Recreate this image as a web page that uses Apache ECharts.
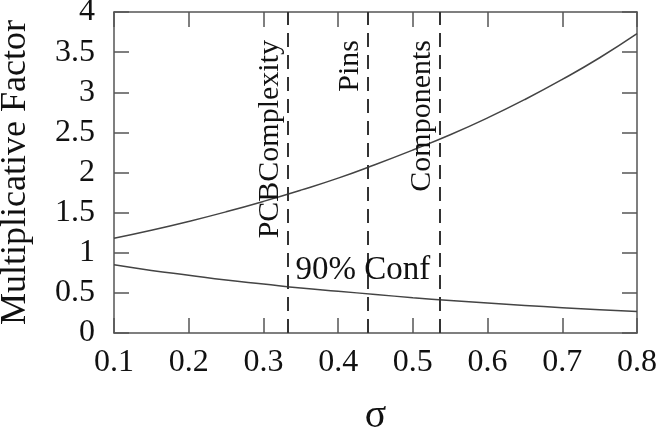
<!DOCTYPE html>
<html>
<head>
<meta charset="utf-8">
<script src="https://cdn.jsdelivr.net/npm/echarts@6/dist/echarts.min.js"></script>
<style>
  html, body { margin: 0; padding: 0; background: #fff; }
  #chart { width: 670px; height: 437px; }
</style>
</head>
<body>
<div id="chart"></div>
<script>
// values
const sigma = [0.1, 0.15, 0.2, 0.25, 0.3, 0.35, 0.4, 0.45, 0.5, 0.55, 0.6, 0.65, 0.7, 0.75, 0.8]
const upper = [1.18, 1.28, 1.39, 1.51, 1.64, 1.78, 1.93, 2.10, 2.28, 2.47, 2.68, 2.91, 3.16, 3.43, 3.73]
const lower = [0.85, 0.78, 0.72, 0.66, 0.61, 0.56, 0.52, 0.48, 0.44, 0.405, 0.373, 0.343, 0.316, 0.291, 0.268]
const markNames = ['PCBComplexity', 'Pins', 'Components']
const markSigma = [0.333, 0.44, 0.536]
const confText = '90% Conf'
const confPos = [0.433, 0.78]

const font = 'Liberation Serif'
const ink = '#111'
const axisCol = '#555'

const chart = echarts.init(document.getElementById('chart'))

const axisCommon = {
    axisLine: { show: true, onZero: false, lineStyle: { color: axisCol, width: 1.5 } },
    axisTick: { show: true, inside: true, length: 15, lineStyle: { color: axisCol, width: 1.5 } },
    splitLine: { show: false }
}

const option = {
    animation: false,
    grid: { left: 114, right: 33, top: 12, bottom: 104, outerBoundsMode: 'none' },
    xAxis: [
        Object.assign({
            type: 'value', min: 0.1, max: 0.8, interval: 0.1,
            name: 'σ', nameLocation: 'middle', nameGap: 63,
            nameTextStyle: { fontFamily: font, fontSize: 40, color: ink },
            axisLabel: { fontFamily: font, fontSize: 32, color: ink, margin: 14,
                formatter: v => v.toFixed(1) }
        }, axisCommon),
        Object.assign({
            type: 'value', min: 0.1, max: 0.8, interval: 0.1, position: 'top',
            axisLabel: { show: false }
        }, axisCommon)
    ],
    yAxis: [
        Object.assign({
            type: 'value', min: 0, max: 4, interval: 0.5,
            name: 'Multiplicative Factor', nameLocation: 'middle', nameGap: 80,
            nameTextStyle: { fontFamily: font, fontSize: 36, color: ink },
            axisLabel: { fontFamily: font, fontSize: 32, color: ink, margin: 19 }
        }, axisCommon),
        Object.assign({
            type: 'value', min: 0, max: 4, interval: 0.5, position: 'right',
            axisLabel: { show: false }
        }, axisCommon)
    ],
    series: [
        {
            type: 'line', smooth: true, showSymbol: false,
            data: sigma.map((s, i) => [s, upper[i]]),
            lineStyle: { color: '#444', width: 1.5 },
            markLine: {
                silent: true, symbol: 'none', precision: 3,
                lineStyle: { color: '#333', width: 2, type: [14, 8] },
                label: {
                    show: true, position: 'insideEndTop', distance: [28, 3],
                    fontFamily: font, fontSize: 30, color: ink,
                    formatter: p => p.name
                },
                data: markNames.map((n, i) => ({ name: n, xAxis: markSigma[i] }))
            }
        },
        {
            type: 'line', smooth: true, showSymbol: false,
            data: sigma.map((s, i) => [s, lower[i]]),
            lineStyle: { color: '#444', width: 1.5 },
            markPoint: {
                silent: true, symbol: 'rect', symbolSize: 0,
                label: { show: true, position: 'inside', fontFamily: font, fontSize: 33, color: ink,
                    formatter: confText },
                data: [{ coord: confPos }]
            }
        }
    ]
}

chart.setOption(option)
</script>
</body>
</html>
